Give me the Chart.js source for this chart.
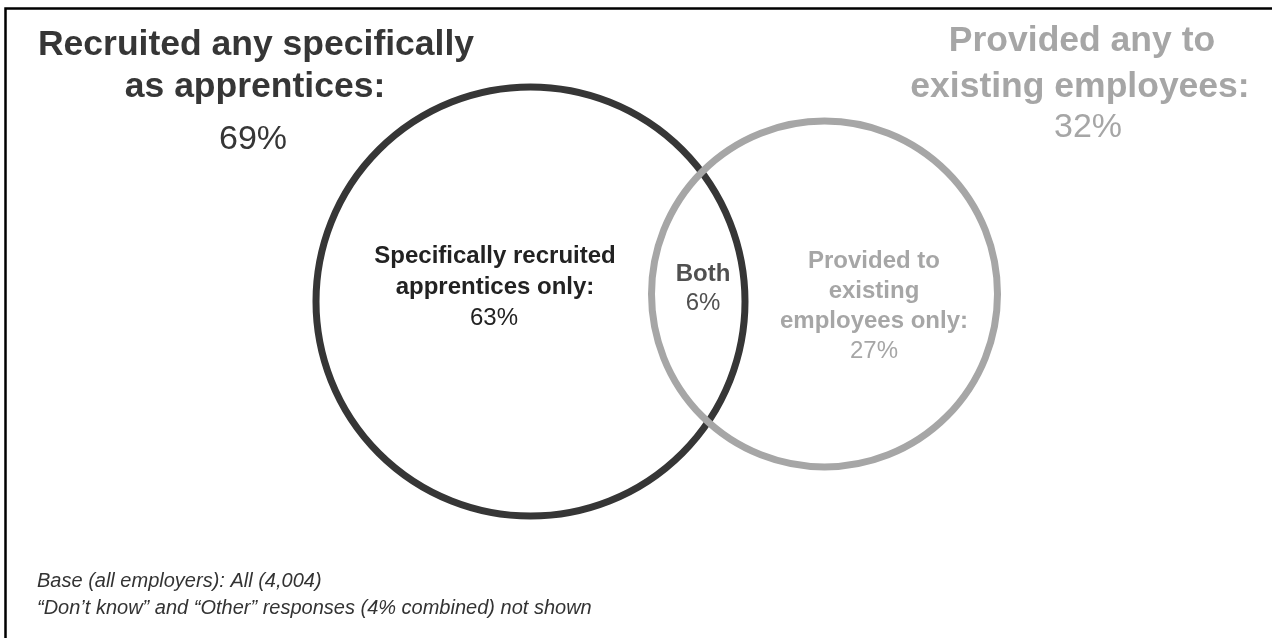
<!DOCTYPE html>
<html>
<head>
<meta charset="utf-8">
<script src="https://cdn.jsdelivr.net/npm/chart.js@4.4.1/dist/chart.umd.min.js"></script>
<style>
  html, body { margin: 0; padding: 0; background: #ffffff; }
  #wrap { width: 1272px; height: 638px; position: relative; }
</style>
</head>
<body>
<div id="wrap"><canvas id="venn"></canvas></div>
<script>
// Overall share of employers in each set (%)
const setTitleLines = [
  ['Recruited any specifically', 'as apprentices:'],
  ['Provided any to', 'existing employees:']
];
const setTotals = [69, 32];

// Shares in each region of the diagram (%)
const regionLines = [
  ['Specifically recruited', 'apprentices only:'],
  ['Both'],
  ['Provided to', 'existing', 'employees only:']
];
const regionValues = [63, 6, 27];

const footnotes = [
  'Base (all employers): All (4,004)',
  '\u201CDon\u2019t know\u201D and \u201COther\u201D responses (4% combined) not shown'
];

const DARK = '#363636';
const GREY = '#a6a6a6';
const FAMILY = '"Liberation Sans", Arial, Helvetica, sans-serif';

// Circle layout on a 1:1 pixel grid (centre x, centre y, radius)
const circles = [
  { x: 530.5, y: 301.5, r: 214.5, color: DARK },
  { x: 824.5, y: 294,   r: 173,   color: GREY }
];

// Text blocks: centre x of each line, baseline of each line, fonts, colour
const pct = v => v + '%';
const textBlocks = [
  { lines: [...setTitleLines[0], pct(setTotals[0])], cx: [256, 255, 253], base: [55, 97, 149],
    fonts: ['bold 35.5px', 'bold 35.5px', '34px'], color: DARK },
  { lines: [...setTitleLines[1], pct(setTotals[1])], cx: [1082, 1080, 1088], base: [51, 97, 137],
    fonts: ['bold 35.5px', 'bold 35.5px', '34px'], color: GREY },
  { lines: [...regionLines[0], pct(regionValues[0])], cx: [495, 495, 494], base: [263, 294, 325],
    fonts: ['bold 24px', 'bold 24px', '24px'], color: '#222222' },
  { lines: [...regionLines[1], pct(regionValues[1])], cx: [703, 703], base: [281, 310],
    fonts: ['bold 24px', '24px'], color: '#505050' },
  { lines: [...regionLines[2], pct(regionValues[2])], cx: [874, 874, 874, 874], base: [268, 298, 328, 358],
    fonts: ['bold 24px', 'bold 24px', 'bold 24px', '24px'], color: GREY }
];

const vennText = {
  id: 'vennText',
  beforeDraw(chart) {
    const ctx = chart.ctx;
    ctx.save();
    ctx.fillStyle = '#ffffff';
    ctx.fillRect(0, 0, chart.width, chart.height);
    // open frame: top and left edges
    ctx.strokeStyle = '#000000';
    ctx.lineWidth = 2.5;
    ctx.beginPath();
    ctx.moveTo(chart.width, 8.5);
    ctx.lineTo(5.5, 8.5);
    ctx.lineTo(5.5, chart.height);
    ctx.stroke();
    ctx.restore();
  },
  afterDatasetsDraw(chart) {
    const { ctx, scales: { x, y } } = chart;
    ctx.save();
    ctx.textBaseline = 'alphabetic';
    textBlocks.forEach(b => {
      ctx.fillStyle = b.color;
      ctx.textAlign = 'center';
      b.lines.forEach((line, i) => {
        ctx.font = b.fonts[i] + ' ' + FAMILY;
        ctx.fillText(line, x.getPixelForValue(b.cx[i]), y.getPixelForValue(b.base[i]));
      });
    });
    ctx.fillStyle = '#333333';
    ctx.textAlign = 'left';
    ctx.font = 'italic 20px ' + FAMILY;
    footnotes.forEach((t, i) => {
      ctx.fillText(t, x.getPixelForValue(37), y.getPixelForValue(587 + i * 27));
    });
    ctx.restore();
  }
};

new Chart(document.getElementById('venn'), {
  type: 'bubble',
  data: {
    datasets: circles.map((c, i) => ({
      label: setTitleLines[i].join(' '),
      data: [{ x: c.x, y: c.y, r: c.r }],
      backgroundColor: 'rgba(0,0,0,0)',
      borderColor: c.color,
      hoverBorderColor: c.color,
      borderWidth: 7,
      hoverBorderWidth: 7,
      order: circles.length - i,
      clip: false
    }))
  },
  options: {
    responsive: true,
    maintainAspectRatio: false,
    animation: false,
    events: [],
    layout: { padding: 0, autoPadding: false },
    scales: {
      x: { type: 'linear', min: 0, max: 1272, display: false },
      y: { type: 'linear', min: 0, max: 638, reverse: true, display: false }
    },
    plugins: { legend: { display: false }, tooltip: { enabled: false } }
  },
  plugins: [vennText]
});
</script>
</body>
</html>
